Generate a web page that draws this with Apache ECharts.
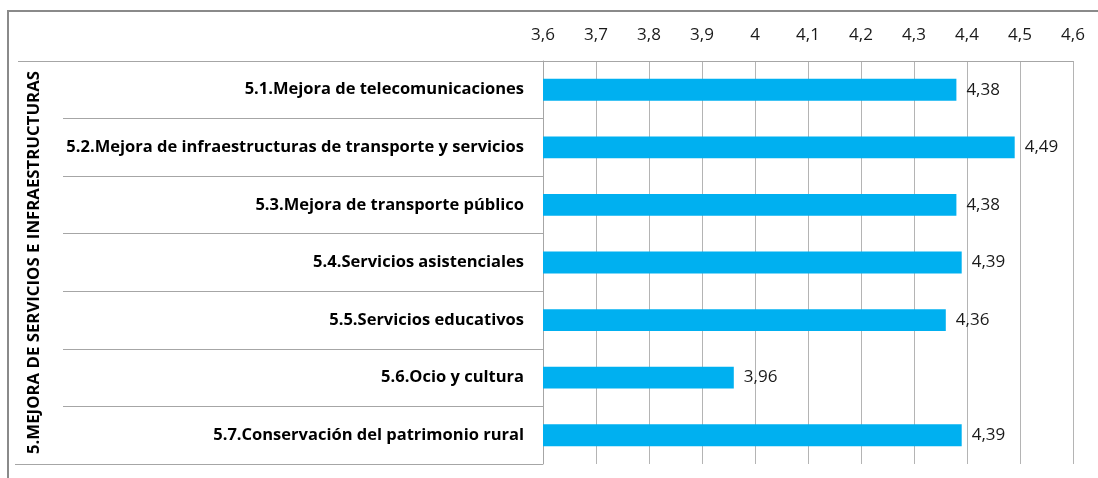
<!DOCTYPE html>
<html>
<head>
<meta charset="utf-8">
<script src="https://cdn.jsdelivr.net/npm/echarts@6/dist/echarts.min.js"></script>
<style>
  html, body { margin: 0; padding: 0; background: #fff; }
  #chart { width: 1098px; height: 478px; }
</style>
</head>
<body>
<div id="chart"></div>
<script>
var categories = [
  '5.1.Mejora de telecomunicaciones',
  '5.2.Mejora de infraestructuras de transporte y servicios',
  '5.3.Mejora de transporte público',
  '5.4.Servicios asistenciales',
  '5.5.Servicios educativos',
  '5.6.Ocio y cultura',
  '5.7.Conservación del patrimonio rural'
];
var values = [4.38, 4.49, 4.38, 4.39, 4.36, 3.96, 4.39];
var groupLabel = '5.MEJORA DE SERVICIOS E INFRAESTRUCTURAS';
var axisMin = 3.6;
var axisMax = 4.6;
var axisStep = 0.1;

var FONT = '"Open Sans"';
var gridLeft = 543, gridTop = 61, gridRight = 25, gridBottom = 14;
var H = 478;
var lineColor = '#a6a6a6';

function comma(v) {
  return String(+(+v).toFixed(2)).replace('.', ',');
}

var chart = echarts.init(document.getElementById('chart'));

chart.setOption({
  animation: false,
  textStyle: { fontFamily: FONT },
  grid: {
    left: gridLeft,
    right: gridRight,
    top: gridTop,
    bottom: gridBottom,
    containLabel: false
  },
  xAxis: {
    type: 'value',
    position: 'top',
    min: axisMin,
    max: axisMax,
    interval: axisStep,
    axisLine: { show: true, lineStyle: { color: lineColor, width: 1 } },
    axisTick: { show: false },
    axisLabel: {
      margin: 17,
      color: '#1a1a1a',
      fontSize: 17,
      fontFamily: FONT,
      formatter: function (v) { return comma(v); }
    },
    splitLine: { show: true, lineStyle: { color: '#b4b4b4', width: 1 } }
  },
  yAxis: {
    type: 'category',
    inverse: true,
    data: categories,
    name: groupLabel,
    nameLocation: 'middle',
    nameRotate: 90,
    nameGap: 500,
    nameTextStyle: {
      fontFamily: FONT,
      fontWeight: 'bold',
      fontSize: 16.8,
      color: '#000'
    },
    axisLine: { show: true, lineStyle: { color: lineColor, width: 1 } },
    axisTick: {
      show: true,
      inside: false,
      length: 480,
      lineStyle: { color: lineColor, width: 1 }
    },
    axisLabel: {
      margin: 19,
      color: '#000',
      fontSize: 16.5,
      fontWeight: 'bold',
      fontFamily: FONT
    }
  },
  series: [{
    type: 'bar',
    data: values,
    barWidth: '38%',
    itemStyle: { color: '#00b0f0' },
    label: {
      show: true,
      position: 'right',
      distance: 10,
      color: '#1a1a1a',
      fontSize: 17,
      fontFamily: FONT,
      formatter: function (p) { return comma(p.value); }
    }
  }],
  graphic: [
    {
      type: 'rect',
      shape: { x: 8, y: 11, width: 1100, height: 480 },
      style: { fill: 'none', stroke: '#8a8a8a', lineWidth: 2 },
      silent: true
    },
    {
      type: 'line',
      shape: { x1: 18, y1: gridTop + 0.5, x2: gridLeft, y2: gridTop + 0.5 },
      style: { stroke: lineColor, lineWidth: 1 },
      silent: true
    },
    {
      type: 'line',
      shape: { x1: 15, y1: H - gridBottom + 0.5, x2: gridLeft, y2: H - gridBottom + 0.5 },
      style: { stroke: lineColor, lineWidth: 1 },
      silent: true
    }
  ]
});
</script>
</body>
</html>
